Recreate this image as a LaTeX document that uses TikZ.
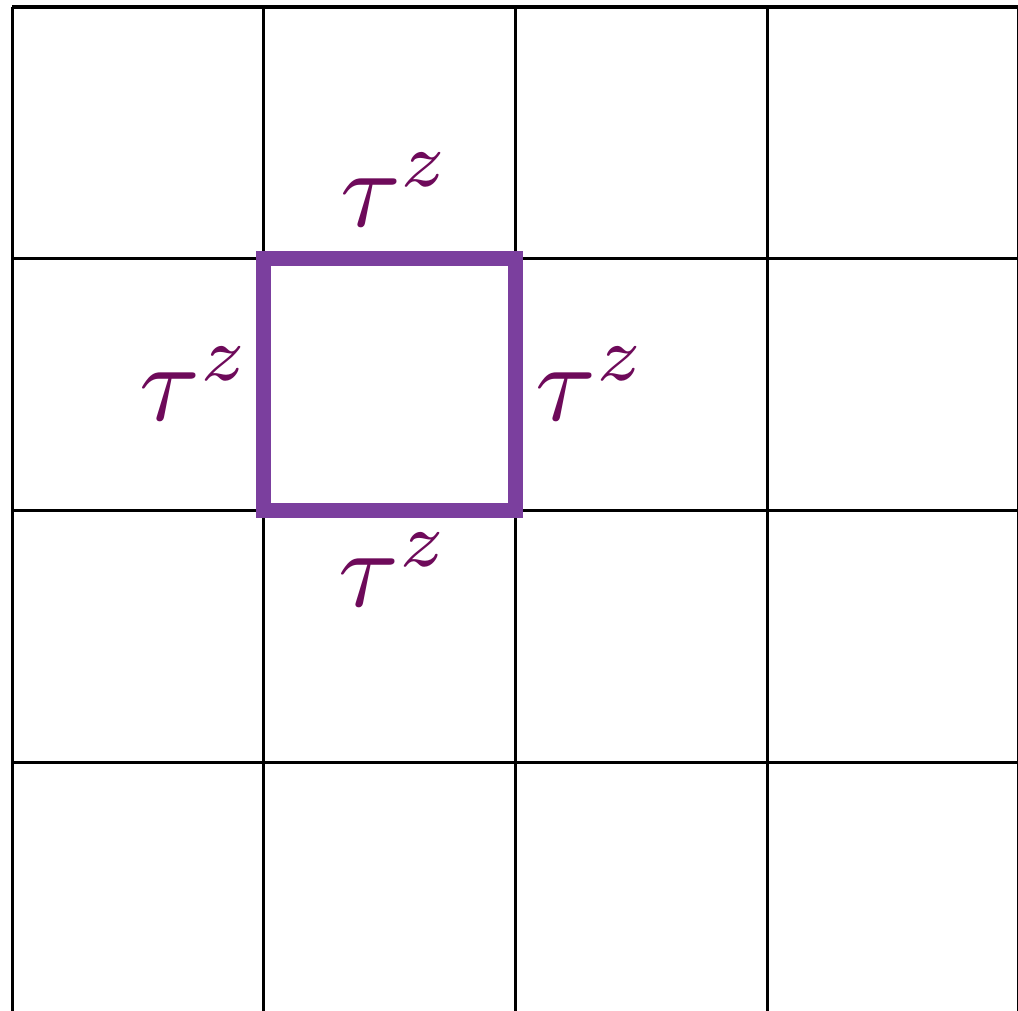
\documentclass[tikz,border=0pt]{standalone}
\usepackage{graphicx}
\usepackage{xcolor}
\usetikzlibrary{positioning}
\definecolor{plaqpurple}{HTML}{7B3F9E}
\definecolor{labelplum}{HTML}{6E0A5A}
\tikzset{
  gridline/.style={line width=0.7pt,black},
  plaquette/.style={line width=3.4pt,plaqpurple},
  taulabel/.style={text=labelplum,inner sep=0pt}
}
\newcommand{\tauz}{\scalebox{2.5}{$\tau^z$}}

\begin{document}
\begin{tikzpicture}[x=2cm,y=2cm]
  \useasboundingbox (-0.048,0.012) rectangle (3.996,4.028);
  % square lattice
  \foreach \i in {0,...,4} {
    \draw[gridline] (\i,0) -- (\i,4);
    \draw[gridline] (0,\i) -- (4,\i);
  }
  % plaquette
  \coordinate (sw) at (1,2);
  \coordinate (ne) at (2,3);
  \draw[plaquette] (sw) rectangle (ne);
  \node[taulabel] (tautop) at (1.525,3.274) {\tauz};
  \node[taulabel] (tauleft) at (0.73,2.504) {\tauz};
  \node[taulabel] (tauright) at (2.302,2.504) {\tauz};
  \node[taulabel] (taubottom) at (1.52,1.766) {\tauz};
\end{tikzpicture}
\end{document}
